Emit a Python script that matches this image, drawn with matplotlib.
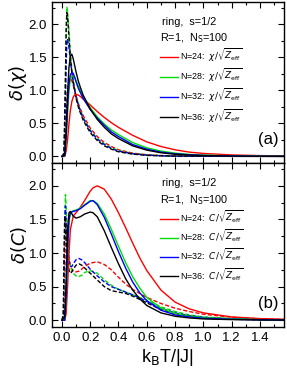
import numpy as np
import matplotlib
matplotlib.use("Agg")
import matplotlib.pyplot as plt
from matplotlib.ticker import MultipleLocator, FormatStrFormatter

plt.rcParams['font.family'] = ['Liberation Sans', 'DejaVu Sans']
plt.rcParams['mathtext.fontset'] = 'dejavusans'

sizes = [24, 28, 32, 36]
colors = ['#ff0000', '#00e000', '#0000ff', '#000000']

# panel (a): solid curves
xa = [0, 0.02, 0.03, 0.04, 0.05, 0.06, 0.07, 0.08, 0.09, 0.1, 0.115, 0.13, 0.15, 0.2, 0.25,
      0.3, 0.35, 0.4, 0.5, 0.6, 0.7, 0.8, 0.9, 1.0, 1.2, 1.4, 1.57]
chi_24 = [0, 0, 0.08, 0.25, 0.5, 0.7, 0.83, 0.9, 0.93, 0.94, 0.93, 0.91, 0.87, 0.78, 0.68,
          0.59, 0.51, 0.44, 0.32, 0.22, 0.15, 0.1, 0.065, 0.045, 0.022, 0.012, 0.007]
chi_28 = [0, 0.01, 0.25, 0.65, 1.0, 1.17, 1.21, 1.22, 1.2, 1.15, 1.07, 1.0, 0.91, 0.74, 0.6,
          0.49, 0.4, 0.33, 0.21, 0.13, 0.08, 0.05, 0.03, 0.02, 0.008, 0.004, 0.002]
chi_32 = [0, 0.01, 0.3, 0.75, 1.1, 1.24, 1.27, 1.26, 1.2, 1.13, 1.04, 0.97, 0.88, 0.71, 0.58,
          0.47, 0.37, 0.3, 0.18, 0.11, 0.065, 0.04, 0.025, 0.015, 0.006, 0.003, 0.002]
chi_36 = [0, 0.02, 0.4, 0.95, 1.35, 1.52, 1.55, 1.48, 1.38, 1.28, 1.15, 1.05, 0.93, 0.72, 0.56,
          0.44, 0.34, 0.27, 0.16, 0.095, 0.055, 0.032, 0.02, 0.012, 0.005, 0.002, 0.001]

# panel (a): dashed curves
xad = [0, 0.015, 0.025, 0.03, 0.035, 0.04, 0.05, 0.06, 0.07, 0.08, 0.1, 0.12, 0.15, 0.2,
       0.25, 0.3, 0.35, 0.4, 0.5, 0.6, 0.7, 0.8, 1.0, 1.2, 1.57]
chid_24 = [0, 0, 0.3, 0.6, 0.85, 1.0, 1.15, 1.18, 1.15, 1.08, 0.92, 0.78, 0.62, 0.43,
           0.3, 0.21, 0.15, 0.1, 0.05, 0.025, 0.013, 0.007, 0.003, 0.001, 0]
chid_28 = [0, 0.03, 1.1, 1.9, 2.26, 2.2, 1.9, 1.58, 1.33, 1.16, 0.92, 0.76, 0.59, 0.4,
           0.27, 0.19, 0.13, 0.09, 0.045, 0.022, 0.012, 0.006, 0.002, 0.001, 0]
chid_32 = [0, 0.02, 0.8, 1.4, 1.7, 1.78, 1.65, 1.45, 1.27, 1.13, 0.9, 0.75, 0.58, 0.39,
           0.26, 0.18, 0.12, 0.08, 0.04, 0.02, 0.01, 0.005, 0.002, 0.001, 0]
chid_36 = [0, 0.05, 1.2, 1.9, 2.18, 2.12, 1.8, 1.5, 1.28, 1.12, 0.88, 0.72, 0.55, 0.36,
           0.24, 0.16, 0.11, 0.07, 0.035, 0.015, 0.008, 0.004, 0.002, 0.001, 0]

# panel (b): solid curves
xb = [0, 0.02, 0.03, 0.04, 0.05, 0.06, 0.08, 0.1, 0.13, 0.16, 0.2, 0.22, 0.25, 0.3, 0.35,
      0.4, 0.45, 0.5, 0.55, 0.6, 0.7, 0.8, 0.9, 1.0, 1.2, 1.4, 1.57]
c_24 = [0, 0, 0.1, 0.5, 1.0, 1.35, 1.55, 1.6, 1.68, 1.78, 1.92, 1.97, 2.0, 1.95, 1.8,
        1.6, 1.38, 1.15, 0.93, 0.74, 0.45, 0.27, 0.17, 0.11, 0.05, 0.025, 0.015]
c_28 = [0, 0, 0.3, 1.0, 1.45, 1.6, 1.63, 1.64, 1.67, 1.72, 1.78, 1.78, 1.74, 1.58, 1.35,
        1.1, 0.86, 0.65, 0.48, 0.34, 0.18, 0.1, 0.06, 0.04, 0.02, 0.01, 0.005]
c_32 = [0, 0, 0.35, 1.05, 1.5, 1.6, 1.62, 1.63, 1.66, 1.71, 1.77, 1.78, 1.72, 1.53, 1.28,
        1.02, 0.78, 0.57, 0.41, 0.29, 0.15, 0.08, 0.05, 0.03, 0.015, 0.008, 0.004]
c_36 = [0, 0.05, 0.6, 1.35, 1.6, 1.62, 1.55, 1.52, 1.54, 1.58, 1.61, 1.6, 1.54, 1.33, 1.08,
        0.84, 0.62, 0.45, 0.32, 0.22, 0.11, 0.06, 0.035, 0.02, 0.01, 0.005, 0.003]

# panel (b): dashed curves
xbd = [0, 0.01, 0.015, 0.02, 0.025, 0.03, 0.04, 0.05, 0.06, 0.07, 0.08, 0.1, 0.12, 0.14,
       0.16, 0.2, 0.25, 0.3, 0.35, 0.4, 0.45, 0.5, 0.6, 0.7, 0.8, 0.9, 1.0, 1.2, 1.4, 1.57]
cd_24 = [0, 0, 0.1, 0.6, 1.3, 1.4, 1.2, 0.95, 0.82, 0.76, 0.73, 0.72, 0.73, 0.76,
         0.8, 0.85, 0.87, 0.83, 0.75, 0.64, 0.54, 0.46, 0.34, 0.25, 0.18, 0.13, 0.09, 0.045, 0.022, 0.012]
cd_28 = [0, 0.02, 0.5, 1.4, 1.87, 1.7, 1.2, 0.9, 0.8, 0.75, 0.7, 0.66, 0.65, 0.67,
         0.71, 0.74, 0.7, 0.6, 0.52, 0.46, 0.42, 0.38, 0.3, 0.2, 0.13, 0.08, 0.05, 0.025, 0.012, 0.007]
cd_32 = [0, 0.05, 0.7, 1.5, 1.7, 1.45, 1.05, 0.88, 0.8, 0.8, 0.84, 0.9, 0.92, 0.9,
         0.86, 0.76, 0.66, 0.57, 0.5, 0.46, 0.42, 0.38, 0.28, 0.18, 0.11, 0.07, 0.045, 0.02, 0.01, 0.006]
cd_36 = [0, 0.1, 0.9, 1.55, 1.45, 1.2, 0.9, 0.75, 0.7, 0.72, 0.76, 0.82, 0.84, 0.82,
         0.78, 0.7, 0.6, 0.5, 0.44, 0.42, 0.4, 0.36, 0.26, 0.16, 0.1, 0.06, 0.035, 0.015, 0.007, 0.004]

fig = plt.figure(figsize=(2.87, 3.69), dpi=100)
ax1 = fig.add_axes([52/287, 1-163/369, 232/287, 161/369])
ax2 = fig.add_axes([52/287, 1-327/369, 232/287, 164/369])

panels = [
    (ax1, xa, [chi_24, chi_28, chi_32, chi_36], xad, [chid_24, chid_28, chid_32, chid_36],
     r'$\chi/\sqrt{Z_{\rm eff}}$', r'$\delta(\chi)$', '(a)'),
    (ax2, xb, [c_24, c_28, c_32, c_36], xbd, [cd_24, cd_28, cd_32, cd_36],
     r'$C/\sqrt{Z_{\rm eff}}$', r'$\delta(C)$', '(b)'),
]

for ax, xs, solids, xd, dashes, qty, ylab, tag in panels:
    for col, yd in zip(colors, dashes):
        ax.plot(xd, yd, color=col, lw=1.0, ls=(0, (3, 1.5)))
    for n, col, ys in zip(sizes, colors, solids):
        ax.plot(xs, ys, color=col, lw=1.0, label='N=%d:  %s' % (n, qty))
    ax.set_xlim(-0.07, 1.57)
    ax.set_ylim(-0.1, 2.34)
    ax.xaxis.set_major_locator(MultipleLocator(0.2))
    ax.xaxis.set_minor_locator(MultipleLocator(0.1))
    ax.yaxis.set_major_locator(MultipleLocator(0.5))
    ax.yaxis.set_minor_locator(MultipleLocator(0.25))
    ax.tick_params(which='both', direction='in', top=True, right=True, labelsize=9.5)
    ax.tick_params(which='major', length=4, width=0.8)
    ax.tick_params(which='minor', length=2.5, width=0.8)
    for s in ax.spines.values():
        s.set_linewidth(1.0)
    ax.yaxis.set_major_formatter(FormatStrFormatter('%.1f'))
    ax.set_ylabel(ylab, fontsize=13)
    ax.yaxis.set_label_coords(-0.1, 0.5)
    ax.text(0.475, 0.875, 'ring,  s=1/2', transform=ax.transAxes, fontsize=7.8, va='center')
    ax.text(0.465, 0.775, r'R=1,  N$_{\rm S}$=100', transform=ax.transAxes, fontsize=7.8, va='center')
    ax.text(0.975, 0.145, tag, transform=ax.transAxes, fontsize=12, ha='right', va='center')
    ax.legend(loc='upper left', bbox_to_anchor=(0.465, 0.72), frameon=False, fontsize=6.4,
              handlelength=2.0, handletextpad=0.3, labelspacing=0.35, borderpad=0, borderaxespad=0)

ax1.tick_params(labelbottom=False)
ax2.xaxis.set_major_formatter(FormatStrFormatter('%.1f'))
ax2.set_xlabel(r'k$_{\rm B}$T/|J|', fontsize=13, labelpad=2)

fig.savefig('out.png', dpi=100)
